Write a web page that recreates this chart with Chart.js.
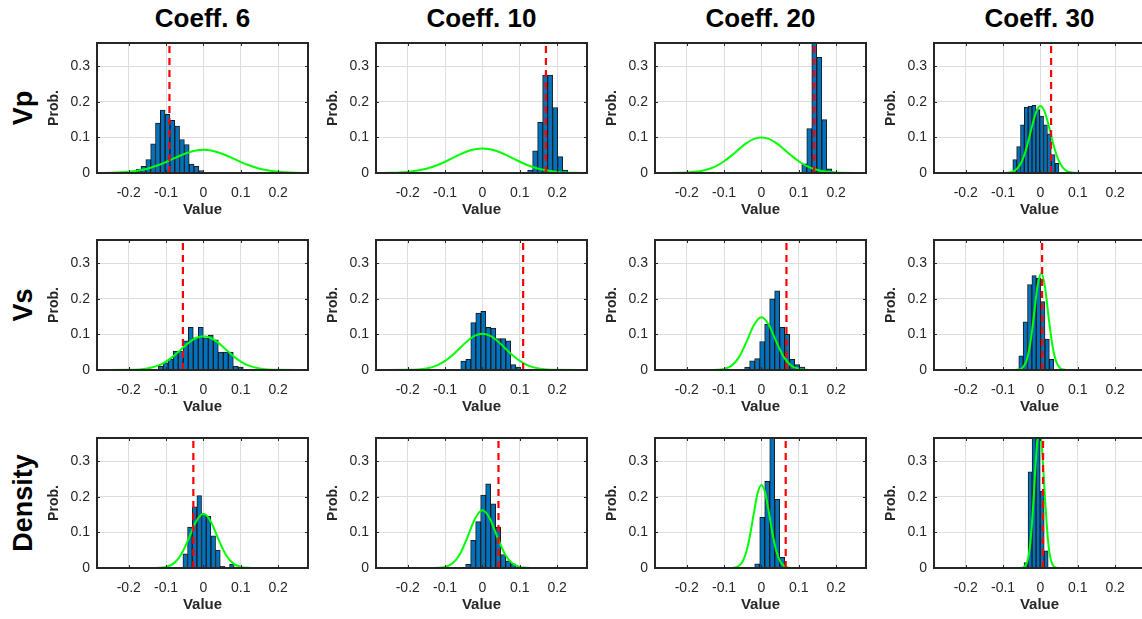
<!DOCTYPE html>
<html><head><meta charset="utf-8">
<script src="https://cdn.jsdelivr.net/npm/chart.js@4"></script>
<style>
body{margin:0;background:#fff;width:1142px;height:619px;overflow:hidden;position:relative;font-family:"Liberation Sans",Arial,sans-serif;}
canvas{position:absolute;}
.coltitle{position:absolute;top:3px;font-weight:bold;font-size:26px;line-height:30px;color:#000;transform:translateX(-50%);white-space:nowrap;}
.rowlabel{position:absolute;font-weight:bold;font-size:27px;line-height:30px;color:#000;transform:translate(-50%,-50%) rotate(-90deg);white-space:nowrap;}
</style></head><body>
<script>
// ---- labels & ticks ----
const colTitles = ['Coeff. 6','Coeff. 10','Coeff. 20','Coeff. 30'];
const rowLabels = ['Vp','Vs','Density'];
const xTicks = [-0.2,-0.1,0,0.1,0.2];
const xTickLabels = ['-0.2','-0.1','0','0.1','0.2'];
const yTicks = [0,0.1,0.2,0.3];
const yTickLabels = ['0','0.1','0.2','0.3'];
const xLabel = 'Value';
const yLabel = 'Prob.';

// ---- curve sampling grids ----
const gridWide = [-0.27,-0.2,-0.15,-0.12,-0.1,-0.08,-0.06,-0.04,-0.02,0,0.02,0.04,0.06,0.08,0.1,0.12,0.15,0.2,0.27];
const gridMid  = [-0.27,-0.14,-0.12,-0.1,-0.08,-0.06,-0.04,-0.02,0,0.02,0.04,0.06,0.08,0.1,0.12,0.14,0.27];

// ---- Vp, Coeff 6 ----
const vp6_binStart = -0.180, vp6_binWidth = 0.0129;
const vp6_prob = [0.011,0.019,0.038,0.082,0.14,0.177,0.165,0.148,0.132,0.094,0.08,0.025,0.019,0.007];
const vp6_curveX = gridWide;
const vp6_curveY = [0.0003,0.0033,0.0122,0.0223,0.0309,0.0404,0.0497,0.0577,0.0631,0.065,0.0631,0.0577,0.0497,0.0404,0.0309,0.0223,0.0122,0.0033,0.0003];
const vp6_true = -0.091;
// ---- Vp, Coeff 10 ----
const vp10_binStart = 0.121, vp10_binWidth = 0.0134;
const vp10_prob = [0.008,0.062,0.142,0.275,0.275,0.184,0.046,0.008];
const vp10_curveX = gridWide;
const vp10_curveY = [0.0002,0.003,0.0119,0.0224,0.0316,0.0419,0.0521,0.0609,0.0669,0.069,0.0669,0.0609,0.0521,0.0419,0.0316,0.0224,0.0119,0.003,0.0002];
const vp10_true = 0.170;
// ---- Vp, Coeff 20 ----
const vp20_binStart = 0.108, vp20_binWidth = 0.0134;
const vp20_prob = [0.026,0.125,0.38,0.325,0.15,0.012];
const vp20_curveX = gridWide;
const vp20_curveY = [0,0.0012,0.0082,0.0202,0.0329,0.0491,0.067,0.0837,0.0957,0.1,0.0957,0.0837,0.067,0.0491,0.0329,0.0202,0.0082,0.0012,0];
const vp20_true = 0.141;
// ---- Vp, Coeff 30 ----
const vp30_binStart = -0.074, vp30_binWidth = 0.0103;
const vp30_prob = [0.038,0.074,0.135,0.185,0.188,0.19,0.178,0.16,0.135,0.11,0.052,0.027];
const vp30_curveX = [-0.27,-0.1,-0.08,-0.07,-0.06,-0.05,-0.04,-0.03,-0.02,-0.01,0,0.01,0.02,0.03,0.04,0.05,0.06,0.07,0.08,0.1,0.27];
const vp30_curveY = [0,0,0.0021,0.006,0.0149,0.0323,0.0609,0.0998,0.142,0.175,0.188,0.175,0.142,0.0998,0.0609,0.0323,0.0149,0.006,0.0021,0,0];
const vp30_true = 0.0285;

// ---- Vs, Coeff 6 ----
const vs6_binStart = -0.121, vs6_binWidth = 0.0134;
const vs6_prob = [0.01,0.02,0.03,0.053,0.053,0.082,0.12,0.09,0.12,0.09,0.098,0.085,0.05,0.05,0.05,0.01,0.008];
const vs6_curveX = gridWide;
const vs6_curveY = [0,0.0004,0.0042,0.0129,0.0237,0.039,0.0576,0.0761,0.0899,0.095,0.0899,0.0761,0.0576,0.039,0.0237,0.0129,0.0042,0.0004,0];
const vs6_true = -0.055;
// ---- Vs, Coeff 10 ----
const vs10_binStart = -0.058, vs10_binWidth = 0.0134;
const vs10_prob = [0.025,0.03,0.133,0.16,0.165,0.12,0.118,0.088,0.088,0.082,0.015,0.008];
const vs10_curveX = gridWide;
const vs10_curveY = [0,0.0004,0.0045,0.0138,0.0254,0.0419,0.0619,0.0817,0.0965,0.102,0.0965,0.0817,0.0619,0.0419,0.0254,0.0138,0.0045,0.0004,0];
const vs10_true = 0.109;
// ---- Vs, Coeff 20 ----
const vs20_binStart = -0.045, vs20_binWidth = 0.0134;
const vs20_prob = [0.008,0.026,0.032,0.08,0.128,0.2,0.222,0.12,0.1,0.03,0.015,0.008];
const vs20_curveX = gridMid;
const vs20_curveY = [0,0,0.0005,0.0029,0.012,0.0361,0.079,0.1265,0.148,0.1265,0.079,0.0361,0.012,0.0029,0.0005,0,0];
const vs20_true = 0.067;
// ---- Vs, Coeff 30 ----
const vs30_binStart = -0.058, vs30_binWidth = 0.0117;
const vs30_prob = [0.04,0.135,0.24,0.265,0.258,0.192,0.087,0.03];
const vs30_curveX = [-0.27,-0.07,-0.058,-0.048,-0.038,-0.028,-0.018,-0.008,0.002,0.012,0.022,0.032,0.042,0.052,0.062,0.07,0.27];
const vs30_curveY = [0,0,0.0012,0.0061,0.0241,0.0695,0.148,0.234,0.272,0.234,0.148,0.0695,0.0241,0.0061,0.0012,0,0];
const vs30_true = 0.0045;

// ---- Density, Coeff 6 ----
const de6_binStart = -0.055, de6_binWidth = 0.0125;
const de6_prob = [0.04,0.115,0.172,0.203,0.15,0.145,0.09,0.05,0.005,0,0.01];
const de6_curveX = gridMid;
const de6_curveY = [0,0,0.0005,0.003,0.0123,0.0371,0.0812,0.130,0.152,0.130,0.0812,0.0371,0.0123,0.003,0.0005,0,0];
const de6_true = -0.027;
// ---- Density, Coeff 10 ----
const de10_binStart = -0.045, de10_binWidth = 0.0134;
const de10_prob = [0.01,0.078,0.13,0.205,0.236,0.18,0.115,0.038,0.02,0.012];
const de10_curveX = gridMid;
const de10_curveY = [0,0,0.0005,0.0032,0.0131,0.0395,0.0865,0.1385,0.162,0.1385,0.0865,0.0395,0.0131,0.0032,0.0005,0,0];
const de10_true = 0.043;
// ---- Density, Coeff 20 ----
const de20_binStart = -0.018, de20_binWidth = 0.0134;
const de20_prob = [0.012,0.142,0.243,0.38,0.193,0.03];
const de20_curveX = [-0.27,-0.09,-0.07,-0.06,-0.05,-0.04,-0.03,-0.02,-0.01,0,0.01,0.02,0.03,0.04,0.05,0.06,0.07,0.09,0.27];
const de20_curveY = [0,0,0.0017,0.0064,0.0191,0.047,0.0948,0.156,0.211,0.233,0.211,0.156,0.0948,0.047,0.0191,0.0064,0.0017,0,0];
const de20_true = 0.065;
// ---- Density, Coeff 30 ----
const de30_binStart = -0.044, de30_binWidth = 0.0108;
const de30_prob = [0.015,0.27,0.38,0.38,0.215,0.048];
const de30_curveX = [-0.27,-0.06,-0.048,-0.038,-0.033,-0.028,-0.023,-0.018,-0.013,-0.008,-0.003,0.002,0.007,0.012,0.017,0.022,0.027,0.032,0.042,0.06,0.27];
const de30_curveY = [0,0,0.001,0.0104,0.027,0.061,0.12,0.2,0.29,0.362,0.39,0.362,0.29,0.2,0.12,0.061,0.027,0.0104,0.001,0,0];
const de30_true = 0.007;

const panels = [
  [vp6_binStart,vp6_binWidth,vp6_prob,vp6_curveX,vp6_curveY,vp6_true],
  [vp10_binStart,vp10_binWidth,vp10_prob,vp10_curveX,vp10_curveY,vp10_true],
  [vp20_binStart,vp20_binWidth,vp20_prob,vp20_curveX,vp20_curveY,vp20_true],
  [vp30_binStart,vp30_binWidth,vp30_prob,vp30_curveX,vp30_curveY,vp30_true],
  [vs6_binStart,vs6_binWidth,vs6_prob,vs6_curveX,vs6_curveY,vs6_true],
  [vs10_binStart,vs10_binWidth,vs10_prob,vs10_curveX,vs10_curveY,vs10_true],
  [vs20_binStart,vs20_binWidth,vs20_prob,vs20_curveX,vs20_curveY,vs20_true],
  [vs30_binStart,vs30_binWidth,vs30_prob,vs30_curveX,vs30_curveY,vs30_true],
  [de6_binStart,de6_binWidth,de6_prob,de6_curveX,de6_curveY,de6_true],
  [de10_binStart,de10_binWidth,de10_prob,de10_curveX,de10_curveY,de10_true],
  [de20_binStart,de20_binWidth,de20_prob,de20_curveX,de20_curveY,de20_true],
  [de30_binStart,de30_binWidth,de30_prob,de30_curveX,de30_curveY,de30_true]
];

// ---- layout ----
const X_MIN = -0.285, X_MAX = 0.28, Y_MAX = 0.365;
const colLefts = [97,376,655,934], plotW = 211;
const rowTops = [43,240,438], plotH = 130;
const padL = 62, padT = 8, padR = 8, padB = 48;
const FONT = '"Liberation Sans", Arial, sans-serif';

const boxPlugin = {
  id:'box',
  afterDatasetsDraw(chart){
    const {ctx, chartArea:a, scales:{x,y}} = chart;
    ctx.save();
    ctx.strokeStyle = '#262626';
    ctx.lineWidth = 1;
    ctx.beginPath();
    xTicks.forEach(v=>{const p=Math.round(x.getPixelForValue(v))+0.5;ctx.moveTo(p,a.bottom);ctx.lineTo(p,a.bottom-3);ctx.moveTo(p,a.top);ctx.lineTo(p,a.top+3);});
    yTicks.forEach(v=>{const p=Math.round(y.getPixelForValue(v))+0.5;ctx.moveTo(a.left,p);ctx.lineTo(a.left+3,p);ctx.moveTo(a.right,p);ctx.lineTo(a.right-3,p);});
    ctx.stroke();
    ctx.lineWidth = 2;
    ctx.strokeRect(a.left, a.top, a.right-a.left, a.bottom-a.top);
    ctx.restore();
  }
};

colTitles.forEach((t,c)=>{
  const d=document.createElement('div');d.className='coltitle';d.textContent=t;
  d.style.left=(colLefts[c]+plotW/2)+'px';document.body.appendChild(d);
});
rowLabels.forEach((t,r)=>{
  const d=document.createElement('div');d.className='rowlabel';d.textContent=t;
  d.style.left='23px';d.style.top=(rowTops[r]+plotH/2)+'px';document.body.appendChild(d);
});

panels.forEach((p,i)=>{
  const r=Math.floor(i/4), c=i%4;
  const [b0,bw,prob,cx,cy,tv]=p;
  const cv=document.createElement('canvas');
  const W=padL+plotW+padR, H=padT+plotH+padB;
  cv.width=W;cv.height=H;
  cv.style.left=(colLefts[c]-padL)+'px';cv.style.top=(rowTops[r]-padT)+'px';
  cv.style.width=W+'px';cv.style.height=H+'px';
  document.body.appendChild(cv);
  const bars=prob.map((v,k)=>({x:b0+(k+0.5)*bw,y:v}));
  const curve=cx.map((x,k)=>({x:x,y:cy[k]}));
  new Chart(cv,{
    type:'bar',
    data:{datasets:[
      {type:'line',data:[{x:tv,y:0},{x:tv,y:Y_MAX}],borderColor:'#ff0000',borderWidth:2.2,borderDash:[7,5],pointRadius:0,order:0},
      {type:'line',data:curve,borderColor:'#00ff00',borderWidth:2,pointRadius:0,cubicInterpolationMode:'monotone',order:1},
      {type:'bar',data:bars,backgroundColor:'#0072BD',borderColor:'#1a1a1a',borderWidth:1,barPercentage:1,categoryPercentage:1,order:2}
    ]},
    options:{
      responsive:false,animation:false,devicePixelRatio:1,
      layout:{padding:{top:padT,right:padR,left:0,bottom:0}},
      plugins:{legend:{display:false},tooltip:{enabled:false}},
      scales:{
        x:{type:'linear',min:X_MIN,max:X_MAX,offset:false,
          afterFit(s){s.height=padB;s.paddingLeft=0;s.paddingRight=0;},
          afterBuildTicks(s){s.ticks=xTicks.map(v=>({value:v}));},
          grid:{color:'#dedede',lineWidth:1,drawTicks:false,offset:false},
          border:{display:false},
          ticks:{padding:12,color:'#262626',font:{family:FONT,size:14},maxRotation:0,callback:(v,k)=>xTickLabels[k]},
          title:{display:true,text:xLabel,color:'#262626',font:{family:FONT,size:15,weight:'bold'},padding:{top:0,bottom:2}}
        },
        y:{type:'linear',min:0,max:Y_MAX,
          afterFit(s){s.width=padL;s.paddingTop=0;s.paddingBottom=0;},
          afterBuildTicks(s){s.ticks=yTicks.map(v=>({value:v}));},
          grid:{color:'#dedede',lineWidth:1,drawTicks:false},
          border:{display:false},
          ticks:{padding:7,color:'#262626',font:{family:FONT,size:14},callback:(v,k)=>yTickLabels[k]},
          title:{display:true,text:yLabel,color:'#262626',font:{family:FONT,size:14,weight:'bold'},padding:{top:11,bottom:0}}
        }
      }
    },
    plugins:[boxPlugin]
  });
});
</script>
</body></html>
